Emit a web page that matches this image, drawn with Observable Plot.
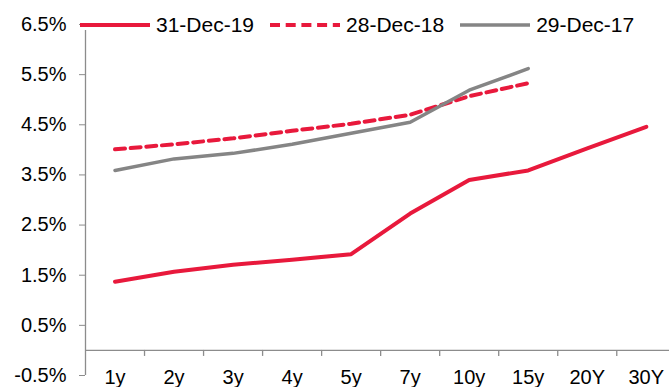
<!DOCTYPE html>
<html>
<head>
<meta charset="utf-8">
<script src="https://cdn.jsdelivr.net/npm/d3@7"></script>
<script src="https://cdn.jsdelivr.net/npm/@observablehq/plot@0.6"></script>
<style>
  html, body { margin: 0; padding: 0; background: #fff; overflow: hidden; }
  #chart { position: relative; width: 669px; height: 387px; font-family: "Liberation Sans", Arial, sans-serif; }
  .legend { position: absolute; left: 80px; top: 12px; height: 25px; display: flex; align-items: center; font-size: 21px; color: #000; }
  .legend .item { display: flex; align-items: center; margin-right: 16px; }
  .legend svg { display: block; margin-right: 6px; }
</style>
</head>
<body>
<div id="chart"></div>
<script>
// Government bond yield curves by tenor
const tenors = ["1y", "2y", "3y", "4y", "5y", "7y", "10y", "15y", "20Y", "30Y"];
const dec19 = [1.37, 1.57, 1.71, 1.81, 1.92, 2.73, 3.40, 3.59, 4.03, 4.46];
const dec18 = [4.01, 4.11, 4.23, 4.38, 4.52, 4.70, 5.07, 5.33];
const dec17 = [3.59, 3.82, 3.93, 4.11, 4.33, 4.55, 5.19, 5.62];
const seriesNames = ["31-Dec-19", "28-Dec-18", "29-Dec-17"];
const yTicks = [-0.5, 0.5, 1.5, 2.5, 3.5, 4.5, 5.5, 6.5];

const RED = "#e8193c";
const GREY = "#858585";
const AXIS = "#8c8c8c";
const DASH = "10,5.7";

// x is a band index: each tenor sits at the centre of its slot
const slot = (d, i) => i + 0.5;
const boundaries = d3.range(1, tenors.length);

const chart = Plot.plot({
  width: 669,
  height: 387,
  marginLeft: 85,
  marginTop: 24,
  marginBottom: 12,
  marginRight: 0,
  style: { fontFamily: "\"Liberation Sans\", Arial, sans-serif", fontSize: "20px", color: "#000", overflow: "hidden" },
  x: { domain: [0, tenors.length], range: [85, 675.3], axis: null },
  y: { domain: [-0.5, 6.5], label: null },
  marks: [
    // axes lines
    Plot.ruleY([0], { stroke: AXIS, strokeWidth: 1.3 }),
    Plot.ruleX([0], { stroke: AXIS, strokeWidth: 1.3 }),
    // category separators under the zero line
    Plot.ruleX(boundaries, { x: d => d, y1: 0, y2: 0, insetBottom: -6, stroke: AXIS, strokeWidth: 1.3 }),
    Plot.axisY({
      ticks: yTicks,
      tickSize: 6,
      tickPadding: 13,
      tickFormat: d => d.toFixed(1) + "%",
      stroke: AXIS,
      fill: "#000",
      fontSize: 20,
      label: null
    }),
    Plot.text(tenors, { x: slot, frameAnchor: "bottom", text: d => d, lineAnchor: "middle", dy: 2, fontSize: 20, fill: "#000" }),
    // series, later ones on top
    Plot.lineY(dec19, { x: slot, y: d => d, stroke: RED, strokeWidth: 4, strokeLinecap: "round", strokeLinejoin: "round" }),
    Plot.lineY(dec18, { x: slot, y: d => d, stroke: RED, strokeWidth: 4, strokeDasharray: DASH, strokeLinejoin: "round" }),
    Plot.lineY(dec17, { x: slot, y: d => d, stroke: GREY, strokeWidth: 3.5, strokeLinecap: "round", strokeLinejoin: "round" })
  ]
});

const container = document.getElementById("chart");
container.appendChild(chart);

// legend row across the top of the plot
const styles = [
  { stroke: RED, width: 4, dash: null },
  { stroke: RED, width: 4, dash: DASH },
  { stroke: GREY, width: 3.5, dash: null }
];
const legend = d3.select(container).append("div").attr("class", "legend");
seriesNames.forEach((name, i) => {
  const item = legend.append("div").attr("class", "item");
  const sw = item.append("svg").attr("width", 70).attr("height", 10);
  sw.append("rect").attr("width", 70).attr("height", 10).attr("fill", "#fff");
  sw.append("line")
    .attr("x1", 0).attr("x2", 70).attr("y1", 5).attr("y2", 5)
    .attr("stroke", styles[i].stroke)
    .attr("stroke-width", styles[i].width)
    .attr("stroke-dasharray", styles[i].dash);
  item.append("span").text(name);
});
</script>
</body>
</html>
